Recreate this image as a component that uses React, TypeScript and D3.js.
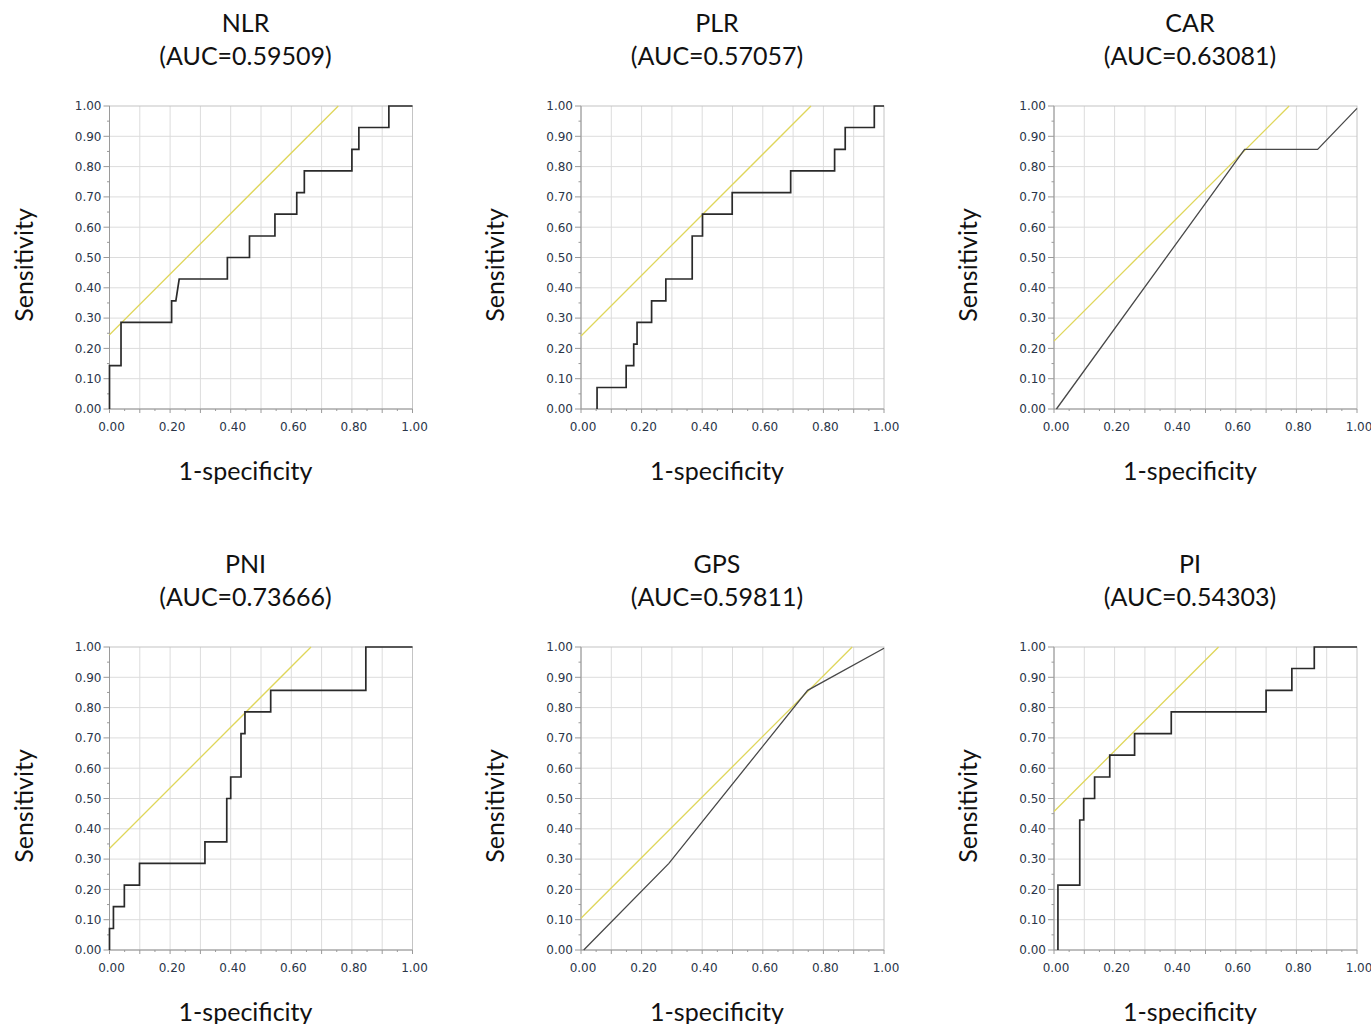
import { useEffect, useRef } from 'react';
import * as d3 from 'd3';

// Panel titles and AUC values
const markers = ['NLR', 'PLR', 'CAR', 'PNI', 'GPS', 'PI'];
const aucLabels = ['0.59509', '0.57057', '0.63081', '0.73666', '0.59811', '0.54303'];

// ROC curves as [1-specificity, sensitivity] corners
const nlrCurve: [number, number][] = [
  [0, 0], [0, 0.143], [0.038, 0.143], [0.038, 0.286], [0.205, 0.286], [0.205, 0.357],
  [0.219, 0.357], [0.23, 0.429], [0.389, 0.429], [0.389, 0.5], [0.462, 0.5], [0.462, 0.571],
  [0.546, 0.571], [0.546, 0.643], [0.618, 0.643], [0.618, 0.714], [0.643, 0.714], [0.643, 0.786],
  [0.8, 0.786], [0.8, 0.857], [0.823, 0.857], [0.823, 0.929], [0.922, 0.929], [0.922, 1], [1, 1],
];
const plrCurve: [number, number][] = [
  [0.053, 0], [0.053, 0.071], [0.149, 0.071], [0.149, 0.143], [0.174, 0.143], [0.174, 0.214],
  [0.185, 0.214], [0.185, 0.286], [0.233, 0.286], [0.233, 0.357], [0.28, 0.357], [0.28, 0.429],
  [0.367, 0.429], [0.367, 0.571], [0.401, 0.571], [0.401, 0.643], [0.499, 0.643], [0.499, 0.714],
  [0.692, 0.714], [0.692, 0.786], [0.837, 0.786], [0.837, 0.857], [0.872, 0.857], [0.872, 0.929],
  [0.968, 0.929], [0.968, 1], [1, 1],
];
const carCurve: [number, number][] = [
  [0.008, 0], [0.629, 0.857], [0.87, 0.857], [1, 0.992],
];
const pniCurve: [number, number][] = [
  [0, 0], [0, 0.071], [0.013, 0.071], [0.013, 0.143], [0.049, 0.143], [0.049, 0.214],
  [0.099, 0.214], [0.099, 0.286], [0.315, 0.286], [0.315, 0.357], [0.387, 0.357], [0.387, 0.5],
  [0.4, 0.5], [0.4, 0.571], [0.434, 0.571], [0.434, 0.714], [0.447, 0.714], [0.447, 0.786],
  [0.532, 0.786], [0.532, 0.857], [0.846, 0.857], [0.846, 1], [1, 1],
];
const gpsCurve: [number, number][] = [
  [0.009, 0], [0.29, 0.286], [0.748, 0.857], [1, 0.996],
];
const piCurve: [number, number][] = [
  [0.013, 0], [0.013, 0.214], [0.085, 0.214], [0.085, 0.429], [0.098, 0.429], [0.098, 0.5],
  [0.134, 0.5], [0.134, 0.571], [0.184, 0.571], [0.184, 0.643], [0.266, 0.643], [0.266, 0.714],
  [0.387, 0.714], [0.387, 0.786], [0.7, 0.786], [0.7, 0.857], [0.785, 0.857], [0.785, 0.929],
  [0.859, 0.929], [0.859, 1], [1, 1],
];
const curves = [nlrCurve, plrCurve, carCurve, pniCurve, gpsCurve, piCurve];
const steppedCurve = [true, true, false, true, false, true];

// intercepts of the yellow tangent lines (slope 1)
const tangentIntercepts = [0.245, 0.241, 0.224, 0.335, 0.105, 0.457];

const yTickLabels = ['0.00', '0.10', '0.20', '0.30', '0.40', '0.50', '0.60', '0.70', '0.80', '0.90', '1.00'];
const xTickLabels = ['0.00', '0.20', '0.40', '0.60', '0.80', '1.00'];

const W = 1371;
const H = 1024;

export default function App() {
  const svgRef = useRef<SVGSVGElement>(null);

  useEffect(() => {
    document.body.style.margin = '0';
    if (!svgRef.current) return;
    const svg = d3.select(svgRef.current);
    svg.selectAll('*').remove();

    svg.append('rect').attr('width', W).attr('height', H).attr('fill', '#fff');

    const plotSize = 303;
    const colLefts = [109.5, 581, 1054];
    const rowTops = [106, 647];
    const titleFont = 'Lato, "Open Sans", sans-serif';
    const tickFont = '"DejaVu Sans", Verdana, sans-serif';
    const tickColor = '#2a3548';

    markers.forEach((name, i) => {
      const left = colLefts[i % 3];
      const top = rowTops[Math.floor(i / 3)];
      const x = d3.scaleLinear().domain([0, 1]).range([left, left + plotSize]);
      const y = d3.scaleLinear().domain([0, 1]).range([top + plotSize, top]);
      const g = svg.append('g');

      const major = d3.range(0, 11).map(k => k / 10);
      const minor = d3.range(0, 10).map(k => k / 10 + 0.05);

      // grid
      g.append('g')
        .selectAll('line.v')
        .data(major.slice(1, -1))
        .join('line')
        .attr('x1', d => x(d)).attr('x2', d => x(d))
        .attr('y1', y(0)).attr('y2', y(1))
        .attr('stroke', '#dcdcdc').attr('stroke-width', 1);
      g.append('g')
        .selectAll('line.h')
        .data(major.slice(1, -1))
        .join('line')
        .attr('y1', d => y(d)).attr('y2', d => y(d))
        .attr('x1', x(0)).attr('x2', x(1))
        .attr('stroke', '#dcdcdc').attr('stroke-width', 1);

      // frame
      g.append('rect')
        .attr('x', x(0)).attr('y', y(1))
        .attr('width', x(1) - x(0)).attr('height', y(0) - y(1))
        .attr('fill', 'none').attr('stroke', '#c4c4c4');
      g.append('line')
        .attr('x1', x(0)).attr('x2', x(0)).attr('y1', y(0)).attr('y2', y(1))
        .attr('stroke', '#9a9a9a');
      g.append('line')
        .attr('x1', x(0)).attr('x2', x(1)).attr('y1', y(0)).attr('y2', y(0))
        .attr('stroke', '#9a9a9a');

      // y ticks
      g.append('g').selectAll('line')
        .data(major).join('line')
        .attr('x1', x(0) - 6).attr('x2', x(0))
        .attr('y1', d => y(d)).attr('y2', d => y(d))
        .attr('stroke', '#9a9a9a');
      g.append('g').selectAll('line')
        .data(minor).join('line')
        .attr('x1', x(0) - 2.5).attr('x2', x(0))
        .attr('y1', d => y(d)).attr('y2', d => y(d))
        .attr('stroke', '#9a9a9a');
      g.append('g').selectAll('text')
        .data(yTickLabels).join('text')
        .attr('x', x(0) - 8)
        .attr('y', (_, k) => y(k / 10) + 4.3)
        .attr('text-anchor', 'end')
        .style('font-family', tickFont)
        .style('font-size', '12px')
        .style('fill', tickColor)
        .text(d => d);

      // x ticks
      g.append('g').selectAll('line')
        .data(major).join('line')
        .attr('x1', d => x(d)).attr('x2', d => x(d))
        .attr('y1', y(0)).attr('y2', y(0) + 4)
        .attr('stroke', '#9a9a9a');
      g.append('g').selectAll('line')
        .data(minor).join('line')
        .attr('x1', d => x(d)).attr('x2', d => x(d))
        .attr('y1', y(0)).attr('y2', y(0) + 2)
        .attr('stroke', '#9a9a9a');
      g.append('g').selectAll('text')
        .data(xTickLabels).join('text')
        .attr('x', (_, k) => x(k / 5) + 2)
        .attr('y', y(0) + 22)
        .attr('text-anchor', 'middle')
        .style('font-family', tickFont)
        .style('font-size', '12px')
        .style('fill', tickColor)
        .text(d => d);

      // tangent line
      const c = tangentIntercepts[i];
      g.append('line')
        .attr('x1', x(0)).attr('y1', y(c))
        .attr('x2', x(1 - c)).attr('y2', y(1))
        .attr('stroke', '#dfd65a').attr('stroke-width', 1.3);

      // ROC curve
      const line = d3.line<[number, number]>()
        .x(d => x(d[0]))
        .y(d => y(d[1]));
      g.append('path')
        .datum(curves[i])
        .attr('d', line)
        .attr('fill', 'none')
        .attr('stroke', steppedCurve[i] ? '#2a2a2a' : '#484848')
        .attr('stroke-width', steppedCurve[i] ? 1.7 : 1.3);

      // titles
      const cx = left + 136;
      g.append('text')
        .attr('x', cx).attr('y', top - 74)
        .attr('text-anchor', 'middle')
        .style('font-family', titleFont)
        .style('font-size', '25px')
        .style('fill', '#111')
        .text(name);
      g.append('text')
        .attr('x', cx).attr('y', top - 41)
        .attr('text-anchor', 'middle')
        .style('font-family', titleFont)
        .style('font-size', '25px')
        .style('fill', '#111')
        .text(`(AUC=${aucLabels[i]})`);

      // axis titles
      g.append('text')
        .attr('x', cx).attr('y', y(0) + 71)
        .attr('text-anchor', 'middle')
        .style('font-family', titleFont)
        .style('font-size', '25px')
        .style('fill', '#111')
        .text('1-specificity');
      g.append('text')
        .attr('transform', `translate(${left - 77},${top + 159}) rotate(-90)`)
        .attr('text-anchor', 'middle')
        .style('font-family', titleFont)
        .style('font-size', '25px')
        .style('fill', '#111')
        .text('Sensitivity');
    });
  }, []);

  return (
    <div>
      <svg ref={svgRef} width={W} height={H} style={{ display: 'block' }} />
    </div>
  );
}
